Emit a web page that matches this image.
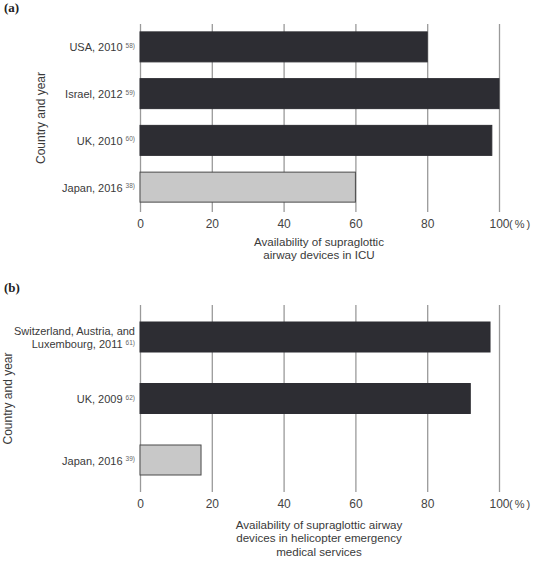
<!DOCTYPE html>
<html>
<head>
<meta charset="utf-8">
<script src="https://cdn.jsdelivr.net/npm/d3@7"></script>
<style>
  body { margin: 0; background: #fff; }
  text { font-family: "Liberation Sans", Arial, Helvetica, sans-serif; fill: #3a3a3a; }
  .panelLabel { font-family: "Liberation Serif", "DejaVu Serif", serif; font-weight: bold; fill: #222; }
  .grid line { stroke: #9a9a9a; stroke-width: 1.3; }
  .sup { fill: #666; }
</style>
</head>
<body>
<div></div>
<script>
// ============ data ============
var ticks = [0, 20, 40, 60, 80, 100];

var countriesA = ["USA, 2010", "Israel, 2012", "UK, 2010", "Japan, 2016"];
var refsA = ["58)", "59)", "60)", "38)"];
var valuesA = [80, 100, 98, 60];
var titleA = ["Availability of supraglottic", "airway devices in ICU"];

var countriesB = ["Switzerland, Austria, and|Luxembourg, 2011", "UK, 2009", "Japan, 2016"];
var refsB = ["61)", "62)", "39)"];
var valuesB = [97.5, 92, 17];
var titleB = ["Availability of supraglottic airway", "devices in helicopter emergency", "medical services"];

var highlight = "Japan, 2016";

var width = 540;
var height = 561;

var svg = d3
  .select("body")
  .select("div")
  .append("svg")
  .attr("width", width)
  .attr("height", height);

var xScale = d3
  .scaleLinear()
  .domain([0, 100])
  .range([140, 499]);

function drawPanel(opts) {
  var rows = opts.countries.map(function(c, i) {
    return { id: c, ref: opts.refs[i], value: opts.values[i] };
  });

  var yScale = d3
    .scaleBand()
    .domain(opts.countries)
    .range(opts.bandRange)
    .padding(0);

  var g = svg.append("g");

  // panel letter
  g.append("text")
    .attr("class", "panelLabel")
    .attr("x", 4)
    .attr("y", opts.labelY)
    .style("font-size", "13px")
    .text(opts.letter);

  // grid lines + tick labels
  var xAxis = d3
    .axisBottom(xScale)
    .tickValues(ticks)
    .tickSizeInner(-(opts.gridBottom - opts.gridTop))
    .tickSizeOuter(0)
    .tickPadding(7);

  var axisG = g
    .append("g")
    .attr("class", "grid")
    .attr("transform", "translate(0," + opts.gridBottom + ")")
    .call(xAxis);
  axisG.select(".domain").remove();
  axisG
    .selectAll("text")
    .style("font-size", "12px")
    .style("fill", "#444")
    .attr("font-family", null);

  // unit after the 100 tick
  g.append("text")
    .attr("x", xScale(100) + 10)
    .attr("y", opts.gridBottom + 15.5)
    .style("font-size", "11px")
    .style("letter-spacing", "2px")
    .style("fill", "#444")
    .text("(%)");

  // bars
  var barH = 30;
  g.append("g")
    .selectAll("rect")
    .data(rows)
    .enter()
    .append("rect")
    .attr("x", xScale(0))
    .attr("y", function(d) {
      return yScale(d.id) + yScale.bandwidth() / 2 - barH / 2;
    })
    .attr("width", function(d) {
      return xScale(d.value) - xScale(0);
    })
    .attr("height", barH)
    .style("fill", function(d) {
      return d.id == highlight ? "#c8c8c8" : "#2d2d33";
    })
    .style("stroke", function(d) {
      return d.id == highlight ? "#4a4a4a" : "#2d2d33";
    })
    .style("stroke-width", 1);

  // category labels with reference superscripts
  rows.forEach(function(d) {
    var cy = yScale(d.id) + yScale.bandwidth() / 2;
    var lines = d.id.split("|");
    var lineH = 13;
    var y0 = cy - ((lines.length - 1) * lineH) / 2;
    lines.forEach(function(line, j) {
      var t = g
        .append("text")
        .attr("x", 135)
        .attr("y", y0 + j * lineH)
        .attr("dy", "0.42em")
        .attr("text-anchor", "end")
        .style("font-size", "11px");
      t.append("tspan").text(line);
      if (j == lines.length - 1) {
        t.append("tspan")
          .attr("class", "sup")
          .attr("dx", 3)
          .attr("dy", -3.5)
          .style("font-size", "6.5px")
          .text(d.ref);
      }
    });
  });

  // y title
  g.append("text")
    .attr("transform", "translate(" + opts.yTitleX + "," + (opts.gridTop + opts.gridBottom) / 2 + ") rotate(-90)")
    .attr("text-anchor", "middle")
    .style("font-size", "12px")
    .text("Country and year");

  // x title
  g.append("g")
    .selectAll("text")
    .data(opts.title)
    .enter()
    .append("text")
    .attr("x", 319)
    .attr("y", function(d, i) {
      return opts.titleY + i * opts.titleStep;
    })
    .attr("text-anchor", "middle")
    .style("font-size", "11.6px")
    .text(function(d) {
      return d;
    });
}

drawPanel({
  letter: "(a)",
  labelY: 12,
  countries: countriesA,
  refs: refsA,
  values: valuesA,
  title: titleA,
  bandRange: [23.5, 210.5],
  gridTop: 24,
  gridBottom: 212,
  yTitleX: 45,
  titleY: 246,
  titleStep: 12.5
});

drawPanel({
  letter: "(b)",
  labelY: 292,
  countries: countriesB,
  refs: refsB,
  values: valuesB,
  title: titleB,
  bandRange: [306.25, 490.75],
  gridTop: 305,
  gridBottom: 492,
  yTitleX: 12,
  titleY: 529,
  titleStep: 13.3
});
</script>
</body>
</html>
